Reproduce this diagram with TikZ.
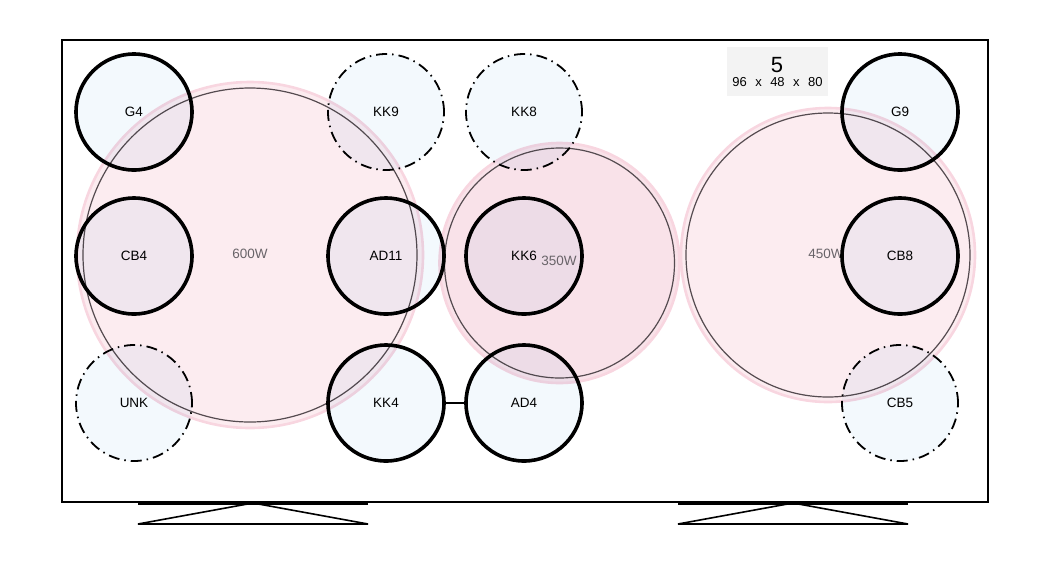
\documentclass[tikz,border=0pt]{standalone}
\usepackage{fontspec}
\setmainfont{Liberation Sans}
\begin{document}
\begin{tikzpicture}[x=1pt,y=-1pt,
  smallc/.style={circle,minimum size=116pt,inner sep=0pt,font=\fontsize{13.5}{15}\selectfont},
  solidc/.style={draw=black,line width=3.6pt},
  dashc/.style={draw=black,line width=1.8pt,dash pattern=on 11pt off 5pt on 1.5pt off 5pt},
  bigouter/.style={circle,inner sep=0pt,draw=pinkline,line width=2.6pt,fill=pinkfill},
  biginner/.style={draw=innergrey,line width=1.2pt},
  wlabel/.style={text=wgrey,font=\fontsize{13.5}{15}\selectfont},
  framel/.style={draw=black,line width=1.3pt},
  standl/.style={draw=black,line width=1.6pt}]
\definecolor{pinkfill}{RGB}{252,236,240}
\definecolor{pinkfillb}{RGB}{249,226,233}
\definecolor{pinkline}{RGB}{248,214,224}
\definecolor{innergrey}{RGB}{85,75,80}
\definecolor{wgrey}{RGB}{105,100,105}
\definecolor{bluefill}{RGB}{243,249,253}
\definecolor{boxgrey}{RGB}{243,243,243}
\useasboundingbox (0,0) rectangle (1050,566);
% frame
\draw[framel] (62,40) rectangle (988,502);
% stands
\coordinate (la) at (253,503); \coordinate (lb) at (138,524); \coordinate (lc) at (368,524);
\coordinate (ld) at (138,503.5); \coordinate (le) at (368,503.5);
\draw[standl] (lb) -- (la) -- (lc) -- cycle;
\draw[line width=2.4pt] (ld) -- (le);
\coordinate (ra) at (793,503); \coordinate (rb) at (678,524); \coordinate (rc) at (908,524);
\coordinate (rd) at (678,503.5); \coordinate (re) at (908,503.5);
\draw[standl] (rb) -- (ra) -- (rc) -- cycle;
\draw[line width=2.4pt] (rd) -- (re);
% label box
\node[fill=boxgrey,minimum width=101pt,minimum height=49pt,inner sep=0pt] (box) at (777.5,71.5) {};
\node[font=\fontsize{22}{24}\selectfont] (num) at (777,65) {5};
\node[font=\fontsize{13}{14}\selectfont] (dims) at (777.5,82.5) {96\hspace{8.5pt}x\hspace{8.5pt}48\hspace{8.5pt}x\hspace{8.5pt}80};
% big circles
\node[bigouter,minimum size=346pt] (w600) at (250,255) {};
\draw[biginner] (w600.center) circle (167);
\node[wlabel] (l600) at (250,254) {600W};
\node[bigouter,fill=pinkfillb,minimum size=240pt] (w350) at (559.5,263) {};
\draw[biginner] (w350.center) circle (115);
\node[bigouter,minimum size=294pt] (w450) at (828,255) {};
\draw[biginner] (w450.center) circle (142);
\node[wlabel] (l450) at (826,254) {450W};
% small circle fills
\begin{scope}[blend mode=multiply]
\foreach \n/\x/\y in {G4/134/112,KK9/386/112,KK8/524/112,G9/900/112,
                      CB4/134/256,AD11/386/256,KK6/524/256,CB8/900/256,
                      UNK/134/403,KK4/386/403,AD4/524/403,CB5/900/403}
  \fill[bluefill] (\x,\y) circle (58);
\end{scope}
\node[wlabel] (l350) at (559,261) {350W};
\foreach \n/\x/\y in {G4/134/112,G9/900/112,CB4/134/256,AD11/386/256,KK6/524/256,CB8/900/256,KK4/386/403,AD4/524/403}
  \node[smallc,solidc] (\n) at (\x,\y) {\n};
\foreach \n/\x/\y in {KK9/386/112,KK8/524/112,UNK/134/403,CB5/900/403}
  \node[smallc,dashc] (\n) at (\x,\y) {\n};
% connector
\draw[line width=1.4pt] (KK4) -- (AD4);
\end{tikzpicture}
\end{document}
